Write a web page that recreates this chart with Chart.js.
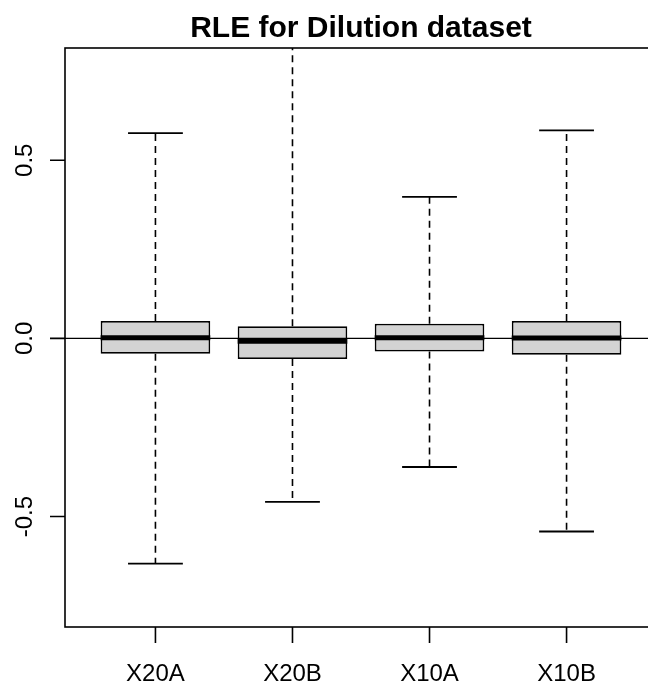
<!DOCTYPE html>
<html lang="en">
<head>
<meta charset="UTF-8">
<title>RLE for Dilution dataset</title>
<script src="https://cdn.jsdelivr.net/npm/chart.js"></script>
<style>
  body { margin: 0; background: #ffffff; overflow: hidden; }
  .wrap { position: relative; width: 660px; height: 684px; }
</style>
</head>
<body>
<div class="wrap"><canvas id="rle"></canvas></div>
<script>
  const categories = ['X20A', 'X20B', 'X10A', 'X10B'];
  const positions = [1, 2, 3, 4];
  const lowerWhisker = [-0.632, -0.459, -0.361, -0.542];
  const q1 = [-0.043, -0.058, -0.037, -0.046];
  const median = [0.002, -0.008, 0.002, 0.001];
  const q3 = [0.049, 0.034, 0.041, 0.049];
  const upperWhisker = [0.576, 0.95, 0.397, 0.584]; // X20B runs past the top
  const yTicks = [-0.5, 0, 0.5];
  const yTickLabels = ['-0.5', '0.0', '0.5'];

  const FONT = '"Liberation Sans", Arial, Helvetica, sans-serif';

  // whiskers, staples, medians, frame and axes, all placed with the chart scales
  const boxExtras = {
    id: 'boxExtras',
    afterDatasetsDraw(chart) {
      const { ctx, chartArea: a, scales: { x, y } } = chart;
      const bars = chart.getDatasetMeta(0).data;
      ctx.save();
      ctx.beginPath();
      ctx.rect(a.left, a.top, a.width, a.height);
      ctx.clip();
      ctx.strokeStyle = '#000';
      positions.forEach((p, i) => {
        const cx = x.getPixelForValue(p);
        const half = bars[i].width / 2;
        // dashed whiskers
        ctx.lineWidth = 1.6;
        ctx.setLineDash([7, 5]);
        ctx.beginPath();
        ctx.moveTo(cx, y.getPixelForValue(q3[i]));
        ctx.lineTo(cx, y.getPixelForValue(upperWhisker[i]));
        ctx.moveTo(cx, y.getPixelForValue(q1[i]));
        ctx.lineTo(cx, y.getPixelForValue(lowerWhisker[i]));
        ctx.stroke();
        ctx.setLineDash([]);
        // staples
        ctx.lineWidth = 1.8;
        ctx.beginPath();
        [upperWhisker[i], lowerWhisker[i]].forEach(v => {
          const py = y.getPixelForValue(v);
          ctx.moveTo(cx - half / 2, py);
          ctx.lineTo(cx + half / 2, py);
        });
        ctx.stroke();
        // median
        ctx.lineWidth = 5;
        ctx.beginPath();
        const my = y.getPixelForValue(median[i]);
        ctx.moveTo(cx - half, my);
        ctx.lineTo(cx + half, my);
        ctx.stroke();
      });
      // abline at zero
      ctx.lineWidth = 1.3;
      ctx.beginPath();
      const zy = y.getPixelForValue(0);
      ctx.moveTo(a.left, zy);
      ctx.lineTo(a.right, zy);
      ctx.stroke();
      ctx.restore();

      ctx.save();
      ctx.strokeStyle = '#000';
      ctx.fillStyle = '#000';
      ctx.lineWidth = 1.6;
      ctx.strokeRect(a.left, a.top, a.width, a.height);

      // x axis ticks and labels
      ctx.beginPath();
      positions.forEach(p => {
        const px = x.getPixelForValue(p);
        ctx.moveTo(px, a.bottom);
        ctx.lineTo(px, a.bottom + 16);
      });
      ctx.stroke();
      ctx.font = '24px ' + FONT;
      ctx.textAlign = 'center';
      ctx.textBaseline = 'alphabetic';
      positions.forEach((p, i) => {
        ctx.fillText(categories[i], x.getPixelForValue(p), 681);
      });

      // y axis ticks and rotated labels
      ctx.beginPath();
      yTicks.forEach(v => {
        const py = y.getPixelForValue(v);
        ctx.moveTo(a.left - 15, py);
        ctx.lineTo(a.left, py);
      });
      ctx.stroke();
      yTicks.forEach((v, i) => {
        ctx.save();
        ctx.translate(32, y.getPixelForValue(v));
        ctx.rotate(-Math.PI / 2);
        ctx.fillText(yTickLabels[i], 0, 0);
        ctx.restore();
      });

      // title, centred over the plot region
      ctx.font = 'bold 30px ' + FONT;
      ctx.fillText('RLE for Dilution dataset', (a.left + a.right) / 2, 37);
      ctx.restore();
    }
  };

  new Chart(document.getElementById('rle'), {
    type: 'bar',
    data: {
      datasets: [{
        data: positions.map((p, i) => ({ x: p, y: [q1[i], q3[i]] })),
        backgroundColor: '#d3d3d3',
        borderColor: '#000000',
        borderWidth: 1.8,
        borderSkipped: false,
        barPercentage: 0.8,
        categoryPercentage: 1
      }]
    },
    options: {
      responsive: true,
      maintainAspectRatio: false,
      animation: false,
      layout: { padding: { left: 65, top: 48, right: 3, bottom: 57 } },
      scales: {
        x: {
          type: 'linear', min: 0.34, max: 4.66, offset: false, display: false,
          afterBuildTicks: s => { s.ticks = positions.map(v => ({ value: v })); }
        },
        y: { min: -0.81, max: 0.815, display: false }
      },
      plugins: {
        legend: { display: false },
        tooltip: { enabled: false }
      }
    },
    plugins: [boxExtras]
  });
</script>
</body>
</html>
